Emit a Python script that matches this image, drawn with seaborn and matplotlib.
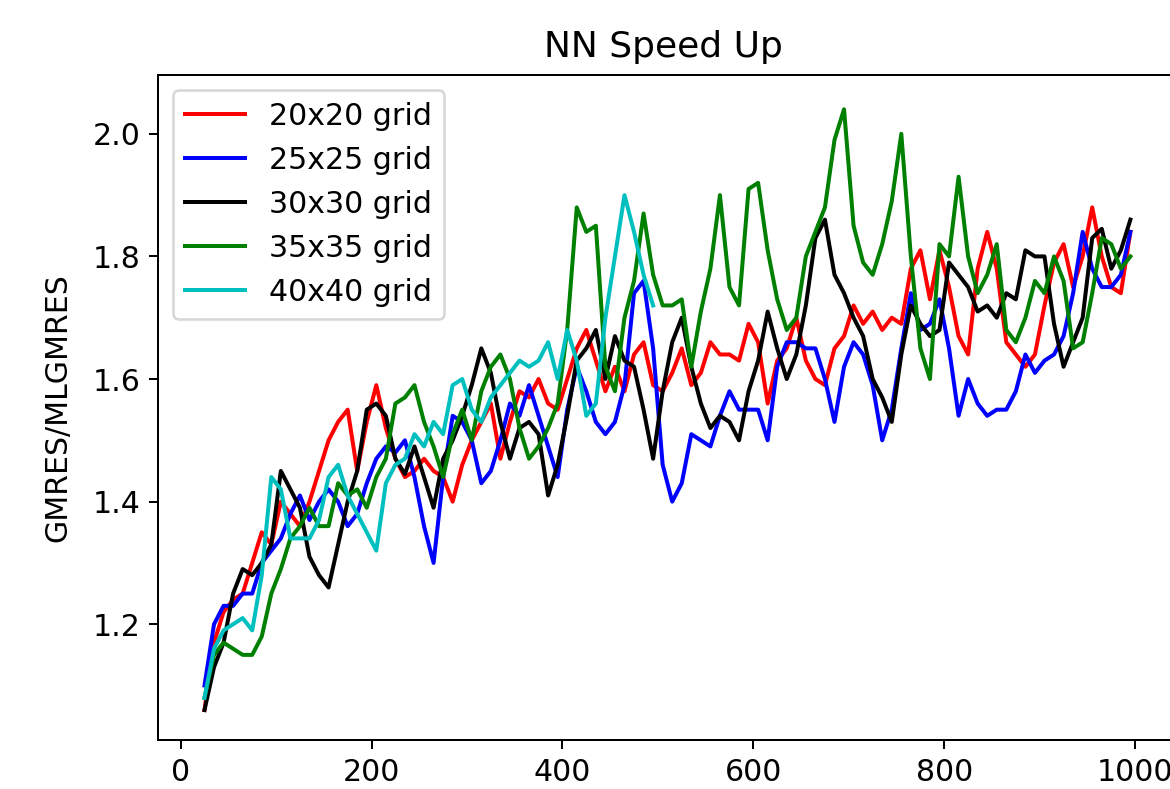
import matplotlib
matplotlib.use("Agg")
import matplotlib.pyplot as plt
import seaborn as sns
import numpy as np

plt.rcParams["font.size"] = 12

# iteration index of each sample (every 10 steps)
iterations = np.arange(25, 1000, 10)

speedup_20 = [1.06, 1.17, 1.22, 1.24, 1.25, 1.30, 1.35, 1.33, 1.40, 1.38,
              1.36, 1.40, 1.45, 1.50, 1.53, 1.55, 1.45, 1.53, 1.59, 1.52,
              1.47, 1.44, 1.45, 1.47, 1.45, 1.44, 1.40, 1.46, 1.50, 1.53,
              1.56, 1.47, 1.53, 1.58, 1.57, 1.60, 1.56, 1.55, 1.60, 1.65,
              1.68, 1.63, 1.58, 1.62, 1.58, 1.64, 1.66, 1.59, 1.58, 1.61,
              1.65, 1.59, 1.61, 1.66, 1.64, 1.64, 1.63, 1.69, 1.66, 1.56,
              1.63, 1.65, 1.70, 1.63, 1.60, 1.59, 1.65, 1.67, 1.72, 1.69,
              1.71, 1.68, 1.70, 1.69, 1.78, 1.81, 1.73, 1.81, 1.75, 1.67,
              1.64, 1.78, 1.84, 1.78, 1.66, 1.64, 1.62, 1.64, 1.72, 1.79,
              1.82, 1.75, 1.80, 1.88, 1.80, 1.75, 1.74, 1.84]

speedup_25 = [1.10, 1.20, 1.23, 1.23, 1.25, 1.25, 1.30, 1.32, 1.34, 1.38,
              1.41, 1.37, 1.40, 1.42, 1.40, 1.36, 1.38, 1.43, 1.47, 1.49,
              1.48, 1.50, 1.44, 1.36, 1.30, 1.44, 1.54, 1.53, 1.50, 1.43,
              1.45, 1.50, 1.56, 1.54, 1.59, 1.54, 1.49, 1.44, 1.55, 1.62,
              1.58, 1.53, 1.51, 1.53, 1.59, 1.74, 1.76, 1.65, 1.46, 1.40,
              1.43, 1.51, 1.50, 1.49, 1.54, 1.58, 1.55, 1.55, 1.55, 1.50,
              1.62, 1.66, 1.66, 1.65, 1.65, 1.60, 1.53, 1.62, 1.66, 1.64,
              1.59, 1.50, 1.55, 1.65, 1.74, 1.68, 1.69, 1.73, 1.65, 1.54,
              1.60, 1.56, 1.54, 1.55, 1.55, 1.58, 1.64, 1.61, 1.63, 1.64,
              1.67, 1.74, 1.84, 1.78, 1.75, 1.75, 1.77, 1.84]

speedup_30 = [1.06, 1.13, 1.17, 1.25, 1.29, 1.28, 1.30, 1.33, 1.45, 1.42,
              1.39, 1.31, 1.28, 1.26, 1.33, 1.40, 1.45, 1.55, 1.56, 1.54,
              1.47, 1.445, 1.49, 1.44, 1.39, 1.47, 1.50, 1.54, 1.59, 1.65,
              1.61, 1.53, 1.47, 1.52, 1.53, 1.51, 1.41, 1.46, 1.54, 1.63,
              1.65, 1.68, 1.60, 1.67, 1.63, 1.62, 1.55, 1.47, 1.58, 1.66,
              1.70, 1.62, 1.56, 1.52, 1.54, 1.53, 1.50, 1.58, 1.63, 1.71,
              1.65, 1.60, 1.64, 1.72, 1.83, 1.86, 1.77, 1.74, 1.70, 1.67,
              1.60, 1.57, 1.53, 1.64, 1.72, 1.69, 1.67, 1.68, 1.79, 1.77,
              1.75, 1.71, 1.72, 1.70, 1.74, 1.73, 1.81, 1.80, 1.80, 1.69,
              1.62, 1.66, 1.70, 1.83, 1.845, 1.78, 1.81, 1.86]

speedup_35 = [1.08, 1.15, 1.17, 1.16, 1.15, 1.15, 1.18, 1.25, 1.29, 1.34,
              1.36, 1.39, 1.36, 1.36, 1.43, 1.41, 1.42, 1.39, 1.44, 1.47,
              1.56, 1.57, 1.59, 1.53, 1.49, 1.44, 1.51, 1.55, 1.50, 1.58,
              1.62, 1.64, 1.60, 1.52, 1.47, 1.49, 1.52, 1.56, 1.68, 1.88,
              1.84, 1.85, 1.62, 1.58, 1.70, 1.76, 1.87, 1.77, 1.72, 1.72,
              1.73, 1.62, 1.71, 1.78, 1.90, 1.75, 1.72, 1.91, 1.92, 1.81,
              1.73, 1.68, 1.70, 1.80, 1.84, 1.88, 1.99, 2.04, 1.85, 1.79,
              1.77, 1.82, 1.89, 2.00, 1.80, 1.65, 1.60, 1.82, 1.80, 1.93,
              1.80, 1.74, 1.77, 1.82, 1.68, 1.66, 1.70, 1.76, 1.74, 1.80,
              1.76, 1.65, 1.66, 1.74, 1.83, 1.82, 1.78, 1.80]

speedup_40 = [1.08, 1.16, 1.19, 1.20, 1.21, 1.19, 1.28, 1.44, 1.42, 1.34,
              1.34, 1.34, 1.37, 1.44, 1.46, 1.41, 1.38, 1.35, 1.32, 1.43,
              1.46, 1.47, 1.51, 1.49, 1.53, 1.51, 1.59, 1.60, 1.55, 1.53,
              1.57, 1.59, 1.61, 1.63, 1.62, 1.63, 1.66, 1.60, 1.68, 1.63,
              1.54, 1.56, 1.70, 1.80, 1.90, 1.84, 1.77, 1.72]

series = [
    ("20x20 grid", speedup_20, "r"),
    ("25x25 grid", speedup_25, "b"),
    ("30x30 grid", speedup_30, "k"),
    ("35x35 grid", speedup_35, "g"),
    ("40x40 grid", speedup_40, "c"),
]

fig = plt.figure(figsize=(6.5, 789 / 180), dpi=180)
# axes run past the right edge, as in the cropped original
ax = fig.add_axes([0.135, 0.062, 0.875, 0.843])

for label, values, color in series:
    sns.lineplot(x=iterations[:len(values)], y=values, color=color,
                 label=label, linewidth=1.6, ax=ax)

ax.set_xlim(-23.75, 1048.75)
ax.set_ylim(1.011, 2.096)
ax.set_xticks([0, 200, 400, 600, 800, 1000])
ax.set_yticks([1.2, 1.4, 1.6, 1.8, 2.0])
ax.spines["right"].set_visible(False)
ax.set_title("NN Speed Up", x=0.494, pad=7)
ax.set_ylabel("GMRES/MLGMRES", labelpad=8)
ax.legend(loc="upper left")

fig.savefig("out.png", dpi=180)
